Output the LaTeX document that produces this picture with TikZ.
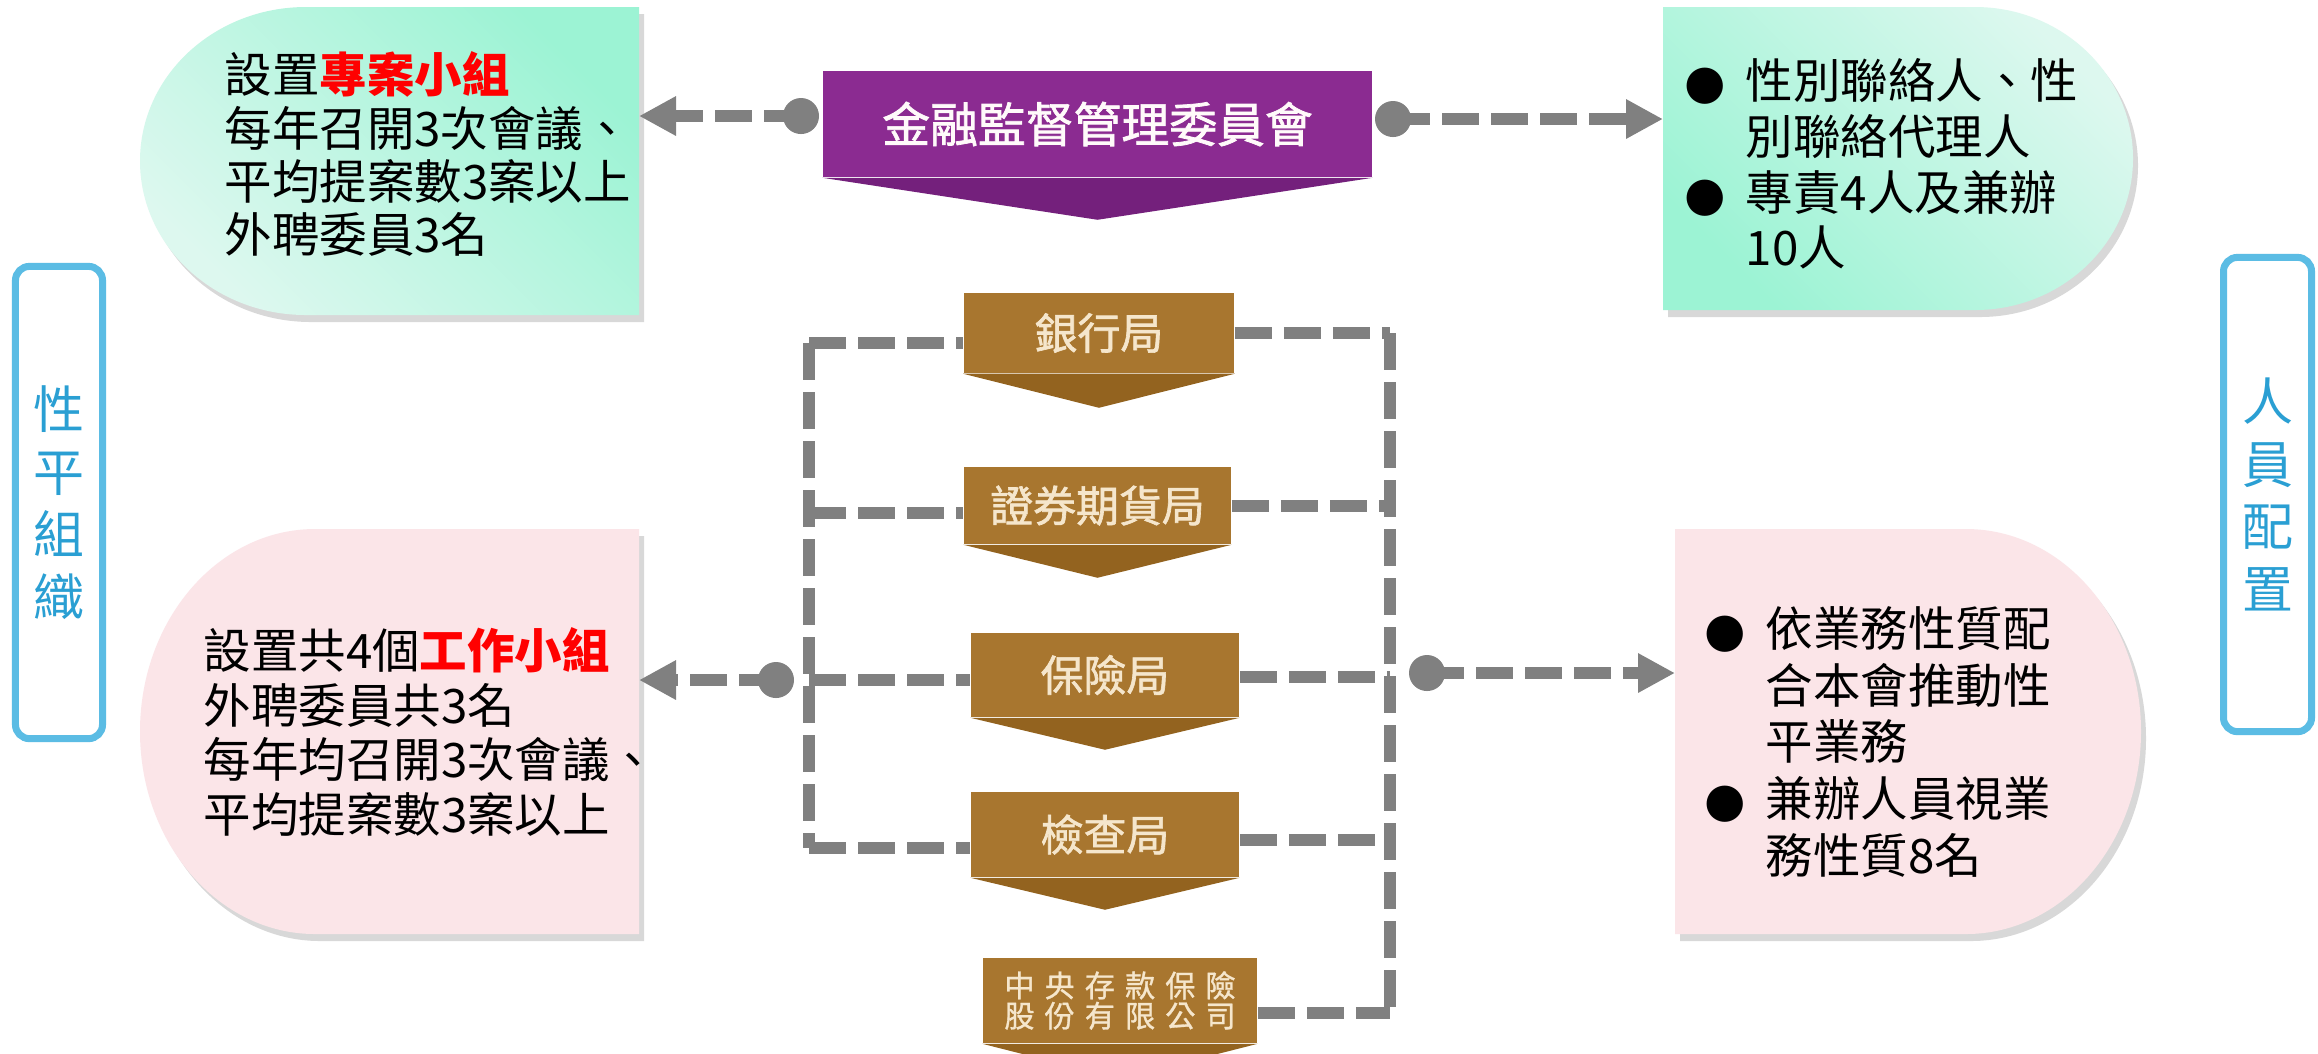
\documentclass[tikz,border=0pt]{standalone}
\usepackage{fontspec}
\setmainfont{Noto Sans CJK TC}
\newfontfamily\dv{DejaVu Sans}
\usetikzlibrary{arrows.meta,shadows}
\definecolor{grnA}{HTML}{9CF3D4}
\definecolor{grnB}{HTML}{DDF8EF}
\definecolor{pnk}{HTML}{FBE5E8}
\definecolor{brn}{HTML}{A8762F}
\definecolor{brnd}{HTML}{93631F}
\definecolor{pur}{HTML}{8B2B91}
\definecolor{purd}{HTML}{74207C}
\definecolor{gry}{HTML}{808080}
\definecolor{blu}{HTML}{5BBCE4}
\definecolor{blut}{HTML}{2A9FD3}
\definecolor{brntxt}{HTML}{F5E6CC}
\newcommand\bul{\makebox[0.61cm][l]{\dv ●}}
\begin{document}
\begin{tikzpicture}[x=0.01cm,y=-0.01cm,
  dashline/.style={draw=gry, line width=0.12cm, dash pattern=on 0.37cm off 0.12cm},
  conn/.style={dashline, -{Triangle[length=0.37cm,width=0.37cm]}},
  dotnode/.style={circle, fill=gry, minimum size=0.36cm, inner sep=0pt},
  shad/.style={drop shadow={shadow xshift=0.05cm, shadow yshift=-0.07cm, opacity=0.25, fill=black!60}},
  txt/.style={align=left, inner sep=0pt, text=black},
  purbox/.style={fill=pur, text=white!92!pink, inner sep=0pt, font=\fontsize{13.6pt}{14pt}\selectfont\addfontfeature{FakeBold=1.5}},
  brnbox/.style={fill=brn, text=brntxt, inner sep=0pt, align=center, font=\fontsize{12.2pt}{13pt}\selectfont\addfontfeature{FakeBold=1.5}},
  sidebox/.style={draw=blu, line width=0.07cm, rounded corners=0.14cm, fill=white, text=blut, align=center, inner sep=0pt, font=\fontsize{14.5pt}{17.8pt}\selectfont}
]
\useasboundingbox (0,0) rectangle (2318,1053);
\clip (0,0) rectangle (2318,1053);
\fill[white] (0,0) rectangle (2318,1053);

% rounded info boxes
\path[shad, top color=grnA, bottom color=grnB, shading angle=-45]
  (639,7) -- (306,7) arc[start angle=270, end angle=90, x radius=166, y radius=154] -- (639,315) -- cycle;
\path[shad, top color=grnB, bottom color=grnA, shading angle=-45]
  (1663,7) -- (1975,7) arc[start angle=-90, end angle=90, x radius=158, y radius=151.5] -- (1663,310) -- cycle;
\path[shad, fill=pnk]
  (639,529) -- (315,529) arc[start angle=270, end angle=90, x radius=175, y radius=202.5] -- (639,934) -- cycle;
\path[shad, fill=pnk]
  (1675,529) -- (1966,529) arc[start angle=-90, end angle=90, x radius=175, y radius=202.5] -- (1675,934) -- cycle;

\node[txt, anchor=west, font=\fontsize{13.5pt}{15.1pt}\selectfont] (tlt) at (224,154)
  {設置\textcolor{red}{\bfseries 專案小組}\\每年召開3次會議、\\平均提案數3案以上\\外聘委員3名};
\node[txt, anchor=west, font=\fontsize{13.5pt}{15.8pt}\selectfont] (trt) at (1684,164)
  {\bul 性別聯絡人、性\\\hspace*{0.61cm}別聯絡代理人\\\bul 專責4人及兼辦\\\hspace*{0.61cm}10人};
\node[txt, anchor=west, font=\fontsize{13.5pt}{15.6pt}\selectfont] (blt) at (203,732)
  {設置共4個\textcolor{red}{\bfseries 工作小組}\\外聘委員共3名\\每年均召開3次會議、\\平均提案數3案以上};
\node[txt, anchor=west, font=\fontsize{13.5pt}{16.2pt}\selectfont] (brt) at (1704,742)
  {\bul 依業務性質配\\\hspace*{0.61cm}合本會推動性\\\hspace*{0.61cm}平業務\\\bul 兼辦人員視業\\\hspace*{0.61cm}務性質8名};

% side labels
\node[sidebox, minimum width=0.87cm, minimum height=4.72cm] (sl) at (59,502.5) {性\\平\\組\\織};
\node[sidebox, minimum width=0.88cm, minimum height=4.74cm] (sr) at (2267.5,494.5) {人\\員\\配\\置};

% purple banner
\node[purbox, minimum width=5.49cm, minimum height=1.06cm] (fsc) at (1097.5,124) {金融監督管理委員會};
\fill[purd] (fsc.south west) -- (fsc.south east) -- ([yshift=-0.42cm]fsc.south) -- cycle;

% brown boxes
\node[brnbox, minimum width=2.70cm, minimum height=0.80cm] (b1) at (1099,333) {銀行局};
\fill[brnd] (b1.south west) -- (b1.south east) -- ([yshift=-0.34cm]b1.south) -- cycle;
\node[brnbox, minimum width=2.67cm, minimum height=0.77cm] (b2) at (1097.5,505.5) {證券期貨局};
\fill[brnd] (b2.south west) -- (b2.south east) -- ([yshift=-0.33cm]b2.south) -- cycle;
\node[brnbox, minimum width=2.68cm, minimum height=0.84cm] (b3) at (1105,675) {保險局};
\fill[brnd] (b3.south west) -- (b3.south east) -- ([yshift=-0.32cm]b3.south) -- cycle;
\node[brnbox, minimum width=2.68cm, minimum height=0.85cm] (b4) at (1105,834.5) {檢查局};
\fill[brnd] (b4.south west) -- (b4.south east) -- ([yshift=-0.32cm]b4.south) -- cycle;
\node[brnbox, minimum width=2.74cm, minimum height=0.85cm, font=\fontsize{8.6pt}{8.6pt}\selectfont\addfontfeature{FakeBold=1,LetterSpace=33}] (b5) at (1120,1000.5) {中央存款保險\\股份有限公司};
\fill[brnd] (b5.south west) -- (b5.south east) -- ([yshift=-0.35cm]b5.south) -- cycle;

% bracket lines
\coordinate (L1) at (809,343);
\coordinate (L2) at (809,513);
\coordinate (L3) at (809,680);
\coordinate (L4) at (809,848);
\draw[dashline] (L1) -- (L4);
\draw[dashline] (L1) -- (b1.west |- L1);
\draw[dashline] (L2) -- (b2.west |- L2);
\draw[dashline] (L3) -- (b3.west |- L3);
\draw[dashline] (L4) -- (b4.west |- L4);
\coordinate (R1) at (1390,333);
\coordinate (R2) at (1390,506);
\coordinate (R3) at (1390,677);
\coordinate (R4) at (1390,840);
\coordinate (R5) at (1390,1013);
\draw[dashline] (R1) -- (R5);
\draw[dashline] (b1.east |- R1) -- (R1);
\draw[dashline] (b2.east |- R2) -- (R2);
\draw[dashline] (b3.east |- R3) -- (R3);
\draw[dashline] (b4.east |- R4) -- (R4);
\draw[dashline] (b5.east |- R5) -- (R5);

% arrows with dots
\coordinate (a1) at (639,116);
\coordinate (a2) at (1663,119);
\coordinate (a3) at (639,680);
\coordinate (a4) at (1675,673);
\node[dotnode] (d1) at (801,116) {};
\node[dotnode] (d2) at (1393,119) {};
\node[dotnode] (d3) at (776,680) {};
\node[dotnode] (d4) at (1427,673) {};
\draw[conn] (d1.center) -- (a1);
\draw[conn] (d2.center) -- (a2);
\draw[conn] (d3.center) -- (a3);
\draw[conn] (d4.center) -- (a4);
\end{tikzpicture}
\end{document}
